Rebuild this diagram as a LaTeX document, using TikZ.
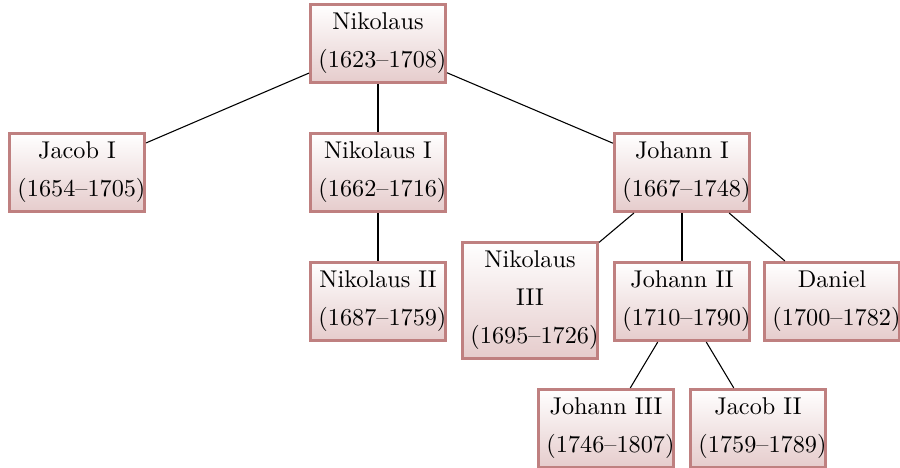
\documentclass[tikz,border=0pt]{standalone}
\usepackage{tikz}
\definecolor{boxborder}{rgb}{0.75,0.5,0.5}
\definecolor{boxbottom}{rgb}{0.9,0.8,0.8}
\newcommand{\yrs}[1]{\mbox{(#1)}}
\tikzset{
  person/.style={draw=boxborder, line width=1.25pt, top color=white, bottom color=boxbottom,
    text width=49.6pt, align=center, inner xsep=3.333pt, inner ysep=3.6pt,
    font=\fontsize{10.1}{15.8}\selectfont},
  link/.style={draw=black, line width=0.45pt}
}
\begin{document}
\begin{tikzpicture}[x=0.41667pt,y=-0.41667pt]
\useasboundingbox (0,0) rectangle (900,468);
\node[person] (nik)   at (378,43.5)  {Nikolaus\\\yrs{1623--1708}};
\node[person] (jac1)  at (77,172.5)  {Jacob I\\\yrs{1654--1705}};
\node[person] (nik1)  at (378,172.5) {Nikolaus I\\\yrs{1662--1716}};
\node[person] (joh1)  at (682,172.5) {Johann I\\\yrs{1667--1748}};
\node[person] (nik2)  at (378,301.5) {Nikolaus II\\\yrs{1687--1759}};
\node[person] (nik3)  at (530,300.5) {Nikolaus\\III\\\yrs{1695--1726}};
\node[person] (joh2)  at (682,301.5) {Johann II\\\yrs{1710--1790}};
\node[person] (dan)   at (832,301.5) {Daniel\\\yrs{1700--1782}};
\node[person] (joh3)  at (606,428.5) {Johann III\\\yrs{1746--1807}};
\node[person] (jac2)  at (758,428.5) {Jacob II\\\yrs{1759--1789}};
\draw[link] (nik) -- (jac1);
\draw[link] (nik) -- (nik1);
\draw[link] (nik) -- (joh1);
\draw[link] (nik1) -- (nik2);
\draw[link] (joh1) -- (nik3);
\draw[link] (joh1) -- (joh2);
\draw[link] (joh1) -- (dan);
\draw[link] (joh2) -- (joh3);
\draw[link] (joh2) -- (jac2);
\end{tikzpicture}
\end{document}
